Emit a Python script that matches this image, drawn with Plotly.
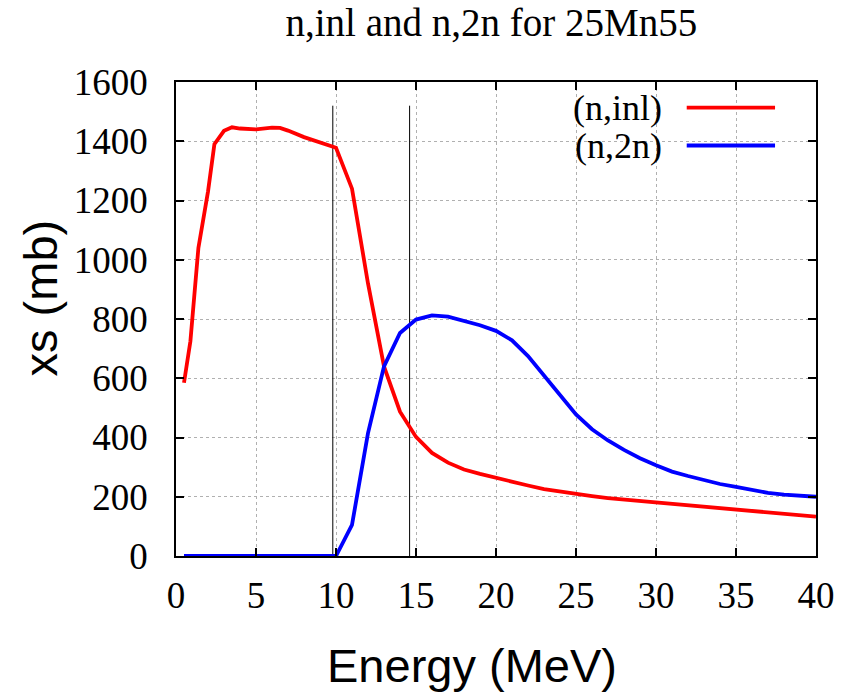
import plotly.graph_objects as go

# Cross sections for 25Mn55 (mb) versus incident neutron energy (MeV)
inl_energy = [0.5, 0.9, 1.4, 2.0, 2.4, 3.0, 3.5, 4.0, 5.0, 6.0, 6.5, 7.0, 8.0, 9.0, 10.0,
              11.0, 12.0, 13.0, 14.0, 15.0, 16.0, 17.0, 18.0, 19.0, 20.0, 21.0, 22.0,
              23.0, 24.0, 25.0, 26.0, 27.0, 28.0, 29.0, 30.0, 31.0, 32.0, 33.0, 34.0,
              35.0, 36.0, 37.0, 38.0, 39.0, 40.0]
inl_xs = [585, 725, 1040, 1230, 1390, 1435, 1447, 1443, 1440, 1446, 1445, 1436, 1414, 1395, 1378,
          1240, 920, 640, 487, 402, 348, 315, 292, 277, 263, 250, 238,
          226, 217, 210, 202, 195, 190, 186, 182, 176, 172, 167, 162,
          157, 152, 148, 143, 138, 133]

n2n_energy = [0.5, 2.0, 4.0, 6.0, 8.0, 10.0, 11.0, 12.0, 13.0, 14.0, 15.0, 16.0, 17.0, 18.0,
              19.0, 20.0, 21.0, 22.0, 23.0, 24.0, 25.0, 26.0, 27.0, 28.0, 29.0, 30.0,
              31.0, 32.0, 33.0, 34.0, 35.0, 36.0, 37.0, 38.0, 39.0, 40.0]
n2n_xs = [0, 0, 0, 0, 0, 0, 105, 415, 640, 753, 798, 812, 808, 795,
          779, 760, 728, 675, 608, 540, 478, 428, 390, 358, 330, 306,
          285, 270, 256, 243, 233, 222, 213, 207, 203, 200]

# Vertical marker lines
marker_energy = [9.8, 14.6]
marker_top = 1520

x_ticks = [0, 5, 10, 15, 20, 25, 30, 35, 40]
y_ticks = [0, 200, 400, 600, 800, 1000, 1200, 1400, 1600]

series_names = ["(n,inl)", "(n,2n)"]
series_colors = ["#ff0000", "#0000ff"]

SERIF = "Liberation Serif, serif"
SANS = "Liberation Sans, Arial, sans-serif"

fig = go.Figure()

for e in marker_energy:
    fig.add_trace(go.Scatter(x=[e, e], y=[0, marker_top], mode="lines",
                             line=dict(color="black", width=1), showlegend=False,
                             hoverinfo="skip"))

fig.add_trace(go.Scatter(x=inl_energy, y=inl_xs, mode="lines", name=series_names[0],
                         line=dict(color=series_colors[0], width=3.8), showlegend=False))
fig.add_trace(go.Scatter(x=n2n_energy, y=n2n_xs, mode="lines", name=series_names[1],
                         line=dict(color=series_colors[1], width=3.8), showlegend=False))

axis_common = dict(
    showline=True, linecolor="black", linewidth=1.5, mirror="allticks",
    ticks="inside", ticklen=8, tickwidth=1.5, tickcolor="black",
    showgrid=True, gridcolor="#b0b0b0", griddash="dot", gridwidth=1,
    zeroline=False,
    tickfont=dict(family=SERIF, size=37, color="black"),
)

fig.update_xaxes(range=[0, 40], tickvals=x_ticks, ticklabelstandoff=6, **axis_common)
fig.update_yaxes(range=[0, 1600], tickvals=y_ticks, ticklabelstandoff=19, **axis_common)

# Legend drawn as text with a short line sample to its right
legend_rows = [0.946, 0.866]
for name, color, ry in zip(series_names, series_colors, legend_rows):
    fig.add_annotation(x=0.763, y=ry, xref="paper", yref="paper", text=name,
                       showarrow=False, xanchor="right", yanchor="middle",
                       font=dict(family=SERIF, size=36, color="black"))
    fig.add_shape(type="line", xref="paper", yref="paper", x0=0.798, x1=0.936,
                  y0=ry, y1=ry, line=dict(color=color, width=3.8))

fig.add_annotation(x=-0.212, y=0.544, xref="paper", yref="paper", text="xs (mb)",
                   showarrow=False, textangle=-90, xanchor="center", yanchor="middle",
                   font=dict(family=SANS, size=47, color="black"))
fig.add_annotation(x=0.462, y=-0.232, xref="paper", yref="paper", text="Energy (MeV)",
                   showarrow=False, xanchor="center", yanchor="middle",
                   font=dict(family=SANS, size=47, color="black"))

fig.update_layout(
    width=859, height=694,
    margin=dict(l=176, r=43, t=82, b=138),
    paper_bgcolor="white", plot_bgcolor="white",
    title=dict(text="n,inl and n,2n for 25Mn55", x=0.572, xanchor="center",
               y=0.968, yanchor="middle",
               font=dict(family=SERIF, size=39, color="black")),
    showlegend=False,
)

fig.write_html("out.html")
